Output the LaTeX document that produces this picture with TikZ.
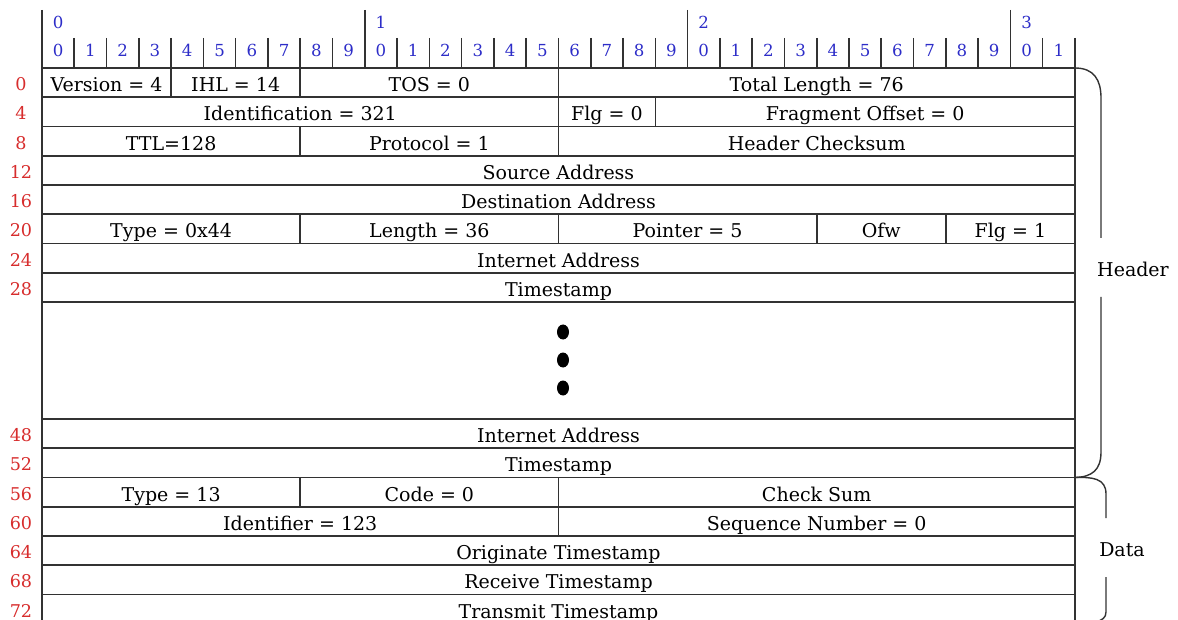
\documentclass[tikz,border=0pt]{standalone}
\usepackage{fontspec}
\setmainfont{DejaVu Serif}
\usetikzlibrary{shapes.geometric}
\definecolor{bitblue}{RGB}{45,45,200}
\definecolor{rowred}{RGB}{215,45,45}
\definecolor{rulegray}{RGB}{50,50,50}

% layout (units are 0.5pt, y grows downwards)
\def\xl{42}      % left edge of the word
\def\bw{32.28}   % width of one bit
\def\ytop{68}    % top of the first row
\def\rh{29.25}   % height of one 32-bit row
\def\basedrop{9} % baseline of field text below the row centre

% one field of a row: name, row index, first bit, end bit, text
\newcommand\pktfield[5]{%
  \draw[rulepen] ({\xl+#3*\bw},{\ytop+#2*\rh}) rectangle ({\xl+#4*\bw},{\ytop+(#2+1)*\rh});
  \node[fieldtext] (#1) at ({\xl+(#3+#4)*\bw/2},{\ytop+(#2+0.5)*\rh+\basedrop}) {#5};
}

\tikzset{
  rulepen/.style={draw=rulegray, line width=0.8pt},
  fieldtext/.style={font=\fontsize{9.5}{11}\selectfont, inner sep=0pt, anchor=base},
  bitnum/.style={font=\fontsize{8.3}{10}\selectfont, text=bitblue, inner sep=0pt, anchor=base},
  rownum/.style={font=\fontsize{8.8}{10}\selectfont, text=rowred, inner sep=0pt, anchor=base},
  bracepen/.style={draw=rulegray, line width=0.7pt},
  sidelabel/.style={font=\fontsize{9.5}{11}\selectfont, inner sep=0pt, anchor=base},
  ellipsisdot/.style={fill=black, ellipse, minimum width=6pt, minimum height=7.5pt, inner sep=0pt},
}

\begin{document}
\begin{tikzpicture}[x=0.5pt, y=-0.5pt]
\useasboundingbox (0,0) rectangle (1178,620);
\clip (0,0) rectangle (1178,620);

% bit ruler
\draw[rulepen] (\xl,10) -- (\xl,\ytop);
\foreach \b in {1,...,32}{
  \pgfmathsetmacro\tickTop{(mod(\b,10)==0 && \b<32) ? 10 : 38}
  \draw[rulepen] ({\xl+\b*\bw},\tickTop) -- ({\xl+\b*\bw},\ytop);
}
\foreach \b [evaluate=\b as \u using {int(mod(\b,10))}] in {0,...,31}
  \node[bitnum] (unit\b) at ({\xl+(\b+0.5)*\bw},57) {\u};
\foreach \t in {0,1,2,3}
  \node[bitnum] (tens\t) at ({\xl+(10*\t+0.5)*\bw},29) {\t};

% row offsets
\foreach \i/\lab in {0/0,1/4,2/8,3/12,4/16,5/20,6/24,7/28,12/48,13/52,14/56,15/60,16/64,17/68,18/72}
  \node[rownum] (off\lab) at (21,{\ytop+(\i+0.5)*\rh+8}) {\lab};

% IP header
\pktfield{ver}{0}{0}{4}{Version = 4}
\pktfield{ihl}{0}{4}{8}{IHL = 14}
\pktfield{tos}{0}{8}{16}{TOS = 0}
\pktfield{tlen}{0}{16}{32}{Total Length = 76}
\pktfield{ident}{1}{0}{16}{Identification = 321}
\pktfield{flg}{1}{16}{19}{Flg = 0}
\pktfield{frag}{1}{19}{32}{Fragment Offset = 0}
\pktfield{ttl}{2}{0}{8}{TTL=128}
\pktfield{proto}{2}{8}{16}{Protocol = 1}
\pktfield{hcsum}{2}{16}{32}{Header Checksum}
\pktfield{src}{3}{0}{32}{Source Address}
\pktfield{dst}{4}{0}{32}{Destination Address}

% timestamp option
\pktfield{otype}{5}{0}{8}{Type = 0x44}
\pktfield{olen}{5}{8}{16}{Length = 36}
\pktfield{optr}{5}{16}{24}{Pointer = 5}
\pktfield{oofw}{5}{24}{28}{Ofw}
\pktfield{oflg}{5}{28}{32}{Flg = 1}
\pktfield{addrA}{6}{0}{32}{Internet Address}
\pktfield{tsA}{7}{0}{32}{Timestamp}
\draw[rulepen] (\xl,{\ytop+8*\rh}) rectangle ({\xl+32*\bw},{\ytop+12*\rh});
\node[ellipsisdot] (dotA) at (563,332) {};
\node[ellipsisdot] (dotB) at (563,360) {};
\node[ellipsisdot] (dotC) at (563,388) {};
\pktfield{addrB}{12}{0}{32}{Internet Address}
\pktfield{tsB}{13}{0}{32}{Timestamp}

% ICMP timestamp message
\pktfield{itype}{14}{0}{8}{Type = 13}
\pktfield{icode}{14}{8}{16}{Code = 0}
\pktfield{icsum}{14}{16}{32}{Check Sum}
\pktfield{iid}{15}{0}{16}{Identifier = 123}
\pktfield{iseq}{15}{16}{32}{Sequence Number = 0}
\pktfield{orig}{16}{0}{32}{Originate Timestamp}
\pktfield{recv}{17}{0}{32}{Receive Timestamp}
\pktfield{xmit}{18}{0}{32}{Transmit Timestamp}

% braces
\node[sidelabel] (hdr) at (1133,277) {Header};
\node[sidelabel] (dat) at (1122,556) {Data};
\coordinate (hdrTop) at ({\xl+32*\bw},\ytop);
\coordinate (hdrBot) at ({\xl+32*\bw},{\ytop+14*\rh});
\draw[bracepen] (hdrTop) .. controls (1094,68) and (1101,80) .. (1101,98) -- (1101,238);
\draw[bracepen] (1101,297) -- (1101,452) .. controls (1101,470) and (1092,477) .. (hdrBot);
\draw[bracepen] (hdrBot) .. controls (1092,477) and (1106,478) .. (1106,494) -- (1106,518);
\draw[bracepen] (1106,577) -- (1106,612) .. controls (1106,618) and (1102,620) .. (1096,622);
\end{tikzpicture}
\end{document}
